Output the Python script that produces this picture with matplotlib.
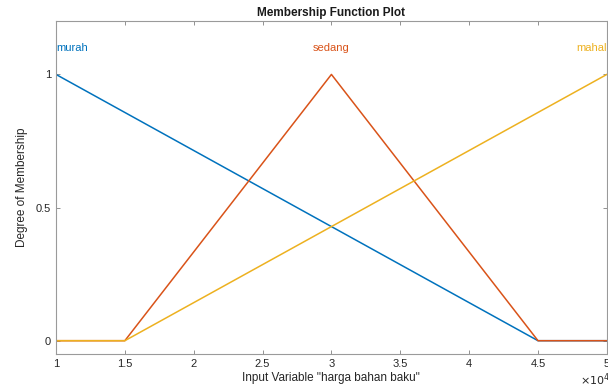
import matplotlib.pyplot as plt
from matplotlib.ticker import FuncFormatter

plt.rcParams['font.family'] = ['Liberation Sans', 'DejaVu Sans']

# membership function break points (input in raw units)
x_murah = [10000, 45000, 50000]
y_murah = [1, 0, 0]
x_sedang = [10000, 15000, 30000, 45000, 50000]
y_sedang = [0, 0, 1, 0, 0]
x_mahal = [10000, 15000, 50000]
y_mahal = [0, 0, 1]

names = ['murah', 'sedang', 'mahal']
label_x = [10000, 30000, 47800]
label_ha = ['left', 'center', 'left']
colors = ['#0072BD', '#D95319', '#EDB120']

fig = plt.figure(figsize=(6.08, 3.85), dpi=100)
ax = fig.add_axes([0.0921, 0.0805, 0.906, 0.8645])

ax.plot(x_murah, y_murah, color=colors[0], lw=1.1)
ax.plot(x_sedang, y_sedang, color=colors[1], lw=1.1)
ax.plot(x_mahal, y_mahal, color=colors[2], lw=1.1)

for n, lx, ha, c in zip(names, label_x, label_ha, colors):
    ax.text(lx, 1.1, n, color=c, ha=ha, va='center', fontsize=8, clip_on=False)

ax.set_xlim(10000, 50000)
ax.set_ylim(-0.05, 1.2)
ax.set_xticks([10000, 15000, 20000, 25000, 30000, 35000, 40000, 45000, 50000])
ax.set_yticks([0, 0.5, 1])
ax.xaxis.set_major_formatter(FuncFormatter(lambda v, p: ('%g' % (v / 1e4))))
ax.yaxis.set_major_formatter(FuncFormatter(lambda v, p: '%g' % v))

ax.tick_params(direction='in', top=True, right=True, length=3, width=0.6,
               colors='#808080', labelcolor='#262626', labelsize=8)
for s in ax.spines.values():
    s.set_color('#9a9a9a')
    s.set_linewidth(0.8)

ax.set_title('Membership Function Plot', fontsize=8.5, fontweight='bold', color='#1a1a1a', pad=4)
ax.set_xlabel('Input Variable "harga bahan baku"', fontsize=8.5, color='#262626', labelpad=2)
ax.set_ylabel('Degree of Membership', fontsize=8.5, color='#262626', labelpad=6)
ax.text(0.951, -0.078, r'$\times10^4$', transform=ax.transAxes, fontsize=8,
        color='#262626', ha='left', va='center', clip_on=False)

fig.savefig('out.png', dpi=100)
